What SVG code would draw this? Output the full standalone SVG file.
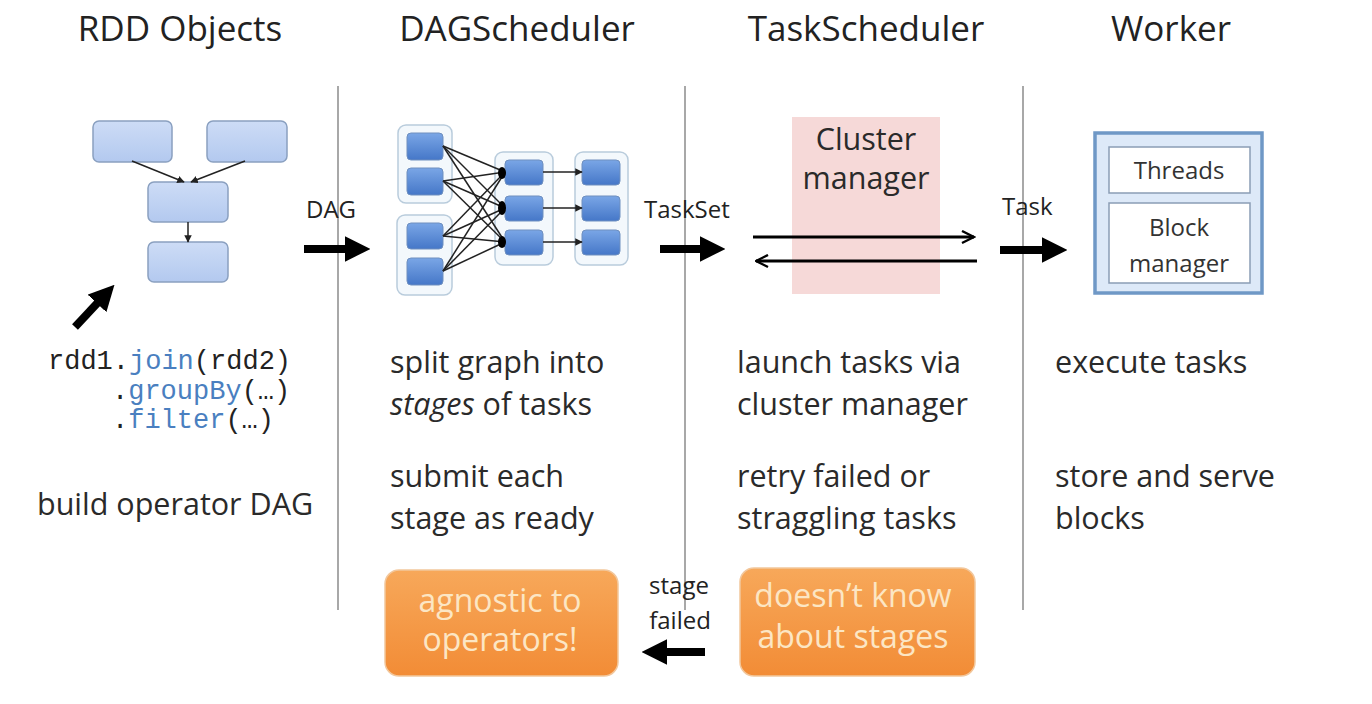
<svg xmlns="http://www.w3.org/2000/svg" width="1372" height="704" viewBox="0 0 1372 704">
<style>
.hdr{font-family:"Open Sans","Noto Sans",sans-serif;font-size:35px;fill:#222;text-anchor:middle}
.body{font-family:"Open Sans","Noto Sans",sans-serif;font-size:30.5px;fill:#2a2a2a}
.lbl{font-family:"Open Sans","Noto Sans",sans-serif;font-size:24px;fill:#222}
.code{font-family:"Liberation Mono","DejaVu Sans Mono",monospace;font-size:27px;fill:#222}
.kw{fill:#4a7fc0}
.sep{stroke:#a8a8a8;stroke-width:2}
.rdd{fill:url(#rddg);stroke:#8aa0c0;stroke-width:1.5}
.sb{fill:url(#sbg);stroke:#6e8fbf;stroke-width:1}
.grp{fill:#f3f8fc;stroke:#b9ccdc;stroke-width:1.5}
.thin{stroke:#222;stroke-width:1.5;fill:none}
.fat{stroke:#000;stroke-width:8;fill:none}
.orange{fill:url(#og);stroke:#f2c79c;stroke-width:1.5}
.otxt{font-family:"Open Sans","Noto Sans",sans-serif;font-size:32px;fill:#fce6c4;text-anchor:middle}
.wtxt{font-family:"Open Sans","Noto Sans",sans-serif;font-size:24px;fill:#333;text-anchor:middle}
</style>
<defs>
<linearGradient id="rddg" x1="0" y1="0" x2="0" y2="1"><stop offset="0" stop-color="#cddcf6"/><stop offset="1" stop-color="#b3c9ef"/></linearGradient>
<linearGradient id="sbg" x1="0" y1="0" x2="0" y2="1"><stop offset="0" stop-color="#7aa6e6"/><stop offset="1" stop-color="#4577c8"/></linearGradient>
<linearGradient id="og" x1="0" y1="0" x2="0" y2="1"><stop offset="0" stop-color="#f7a85a"/><stop offset="1" stop-color="#f28c36"/></linearGradient>
<marker id="sm" viewBox="0 0 10 10" refX="9" refY="5" markerWidth="5" markerHeight="5" orient="auto"><path d="M0,0 L10,5 L0,10 z" fill="#222"/></marker>
<marker id="bm" viewBox="0 0 10 10" refX="4" refY="5" markerWidth="3.2" markerHeight="3.2" orient="auto" markerUnits="strokeWidth"><path d="M0,0 L10,5 L0,10 z" fill="#000"/></marker>
<marker id="om" viewBox="0 0 10 10" refX="9" refY="5" markerWidth="5" markerHeight="5" orient="auto" markerUnits="strokeWidth"><path d="M1,1 L9,5 L1,9" fill="none" stroke="#000" stroke-width="1.6"/></marker>
</defs>
<rect width="1372" height="704" fill="#fff"/>

<g id="headers">
<text class="hdr" x="180" y="41">RDD Objects</text>
<text class="hdr" x="517" y="41">DAGScheduler</text>
<text class="hdr" x="866" y="41">TaskScheduler</text>
<text class="hdr" x="1171" y="41">Worker</text>
</g>

<g id="separators">
<line class="sep" x1="338" y1="86" x2="338" y2="610"/>
<line class="sep" x1="685" y1="86" x2="685" y2="610"/>
<line class="sep" x1="1023" y1="86" x2="1023" y2="610"/>
</g>

<g id="rdd-objects">
<rect class="rdd" x="93" y="121" width="79" height="41" rx="6"/>
<rect class="rdd" x="207" y="121" width="80" height="41" rx="6"/>
<rect class="rdd" x="148" y="182" width="80" height="40" rx="6"/>
<rect class="rdd" x="148" y="242" width="80" height="40" rx="6"/>
<line class="thin" x1="132" y1="161" x2="184" y2="182" marker-end="url(#sm)"/>
<line class="thin" x1="245" y1="161" x2="191" y2="182" marker-end="url(#sm)"/>
<line class="thin" x1="188" y1="222" x2="188" y2="242" marker-end="url(#sm)"/>
</g>

<g id="code">
<text class="code" x="48" y="369">rdd1.<tspan class="kw">join</tspan>(rdd2)</text>
<text class="code" x="112" y="399">.<tspan class="kw">groupBy</tspan>(…)</text>
<text class="code" x="112" y="428">.<tspan class="kw">filter</tspan>(…)</text>
<text class="body" x="37" y="515">build operator DAG</text>
</g>

<g id="dag-scheduler">
<rect class="grp" x="398" y="125" width="54" height="78" rx="8"/>
<rect class="grp" x="397" y="215" width="55" height="80" rx="8"/>
<rect class="grp" x="495" y="152" width="58" height="113" rx="8"/>
<rect class="grp" x="575" y="152" width="53" height="113" rx="8"/>
<rect class="sb" x="407" y="133" width="36" height="27" rx="4"/>
<rect class="sb" x="407" y="168" width="36" height="27" rx="4"/>
<rect class="sb" x="407" y="223" width="36" height="26" rx="4"/>
<rect class="sb" x="407" y="258" width="36" height="27" rx="4"/>
<rect class="sb" x="505" y="160" width="38" height="25" rx="4"/>
<rect class="sb" x="505" y="196" width="38" height="25" rx="4"/>
<rect class="sb" x="505" y="230" width="38" height="25" rx="4"/>
<rect class="sb" x="582" y="160" width="38" height="25" rx="4"/>
<rect class="sb" x="582" y="196" width="38" height="25" rx="4"/>
<rect class="sb" x="582" y="230" width="38" height="25" rx="4"/>
</g>

<g id="cluster-manager">
<rect x="792" y="117" width="148" height="177" fill="#f6d9d8"/>
<text class="body" x="866" y="150" text-anchor="middle" font-size="29">Cluster</text>
<text class="body" x="866" y="189" text-anchor="middle" font-size="29">manager</text>
</g>

<g id="worker">
<rect x="1095" y="133" width="167" height="160" fill="#dde9f8" stroke="#6f98c6" stroke-width="3.5"/>
<rect x="1109" y="147" width="141" height="46" fill="#fff" stroke="#8a9db5" stroke-width="1.5"/>
<rect x="1109" y="203" width="141" height="80" fill="#fff" stroke="#8a9db5" stroke-width="1.5"/>
<text class="wtxt" x="1179" y="179">Threads</text>
<text class="wtxt" x="1179" y="236">Block</text>
<text class="wtxt" x="1179" y="272">manager</text>
</g>

<g id="descriptions">
<text class="body" x="390" y="373">split graph into</text>
<text class="body" x="390" y="415"><tspan font-style="italic">stages</tspan> of tasks</text>
<text class="body" x="390" y="487">submit each</text>
<text class="body" x="390" y="529">stage as ready</text>
<text class="body" x="737" y="373">launch tasks via</text>
<text class="body" x="737" y="415">cluster manager</text>
<text class="body" x="737" y="487">retry failed or</text>
<text class="body" x="737" y="529">straggling tasks</text>
<text class="body" x="1055" y="373">execute tasks</text>
<text class="body" x="1055" y="487">store and serve</text>
<text class="body" x="1055" y="529">blocks</text>
</g>

<g id="notes">
<rect class="orange" x="385" y="570" width="233" height="106" rx="14"/>
<text class="otxt" x="500" y="612">agnostic to</text>
<text class="otxt" x="500" y="651">operators!</text>
<rect class="orange" x="740" y="568" width="235" height="108" rx="14"/>
<text class="otxt" x="853" y="607">doesn’t know</text>
<text class="otxt" x="853" y="648">about stages</text>
</g>

<g id="connector-labels">
<text class="lbl" x="306" y="218">DAG</text>
<text class="lbl" x="644" y="218">TaskSet</text>
<text class="lbl" x="1002" y="215">Task</text>
<text class="lbl" x="679" y="594" text-anchor="middle" font-size="25">stage</text>
<text class="lbl" x="680" y="629" text-anchor="middle" font-size="25">failed</text>
</g>

<g id="connectors">
<g class="thin" stroke-width="1.2">
<line x1="443" y1="146" x2="505" y2="172"/><line x1="443" y1="146" x2="505" y2="208"/><line x1="443" y1="146" x2="505" y2="242"/>
<line x1="443" y1="181" x2="505" y2="172"/><line x1="443" y1="181" x2="505" y2="208"/><line x1="443" y1="181" x2="505" y2="242"/>
<line x1="443" y1="236" x2="505" y2="172"/><line x1="443" y1="236" x2="505" y2="208"/><line x1="443" y1="236" x2="505" y2="242"/>
<line x1="443" y1="271" x2="505" y2="172"/><line x1="443" y1="271" x2="505" y2="208"/><line x1="443" y1="271" x2="505" y2="242"/>
</g>
<ellipse cx="502" cy="173" rx="4" ry="6" fill="#000"/>
<ellipse cx="502" cy="208" rx="4" ry="7" fill="#000"/>
<ellipse cx="502" cy="242" rx="4" ry="6" fill="#000"/>
<line class="thin" x1="543" y1="172" x2="582" y2="172" marker-end="url(#sm)"/>
<line class="thin" x1="543" y1="208" x2="582" y2="208" marker-end="url(#sm)"/>
<line class="thin" x1="543" y1="242" x2="582" y2="242" marker-end="url(#sm)"/>
<line class="fat" x1="75" y1="327" x2="104" y2="296" marker-end="url(#bm)"/>
<line class="fat" x1="304" y1="249" x2="355" y2="249" marker-end="url(#bm)"/>
<line class="fat" x1="660" y1="249" x2="710" y2="249" marker-end="url(#bm)"/>
<line class="fat" x1="1000" y1="250" x2="1052" y2="250" marker-end="url(#bm)"/>
<line class="fat" x1="705" y1="652" x2="657" y2="652" marker-end="url(#bm)"/>
<line x1="753" y1="237" x2="974" y2="237" stroke="#000" stroke-width="3" marker-end="url(#om)"/>
<line x1="977" y1="261" x2="756" y2="261" stroke="#000" stroke-width="3" marker-end="url(#om)"/>
</g>
</svg>
